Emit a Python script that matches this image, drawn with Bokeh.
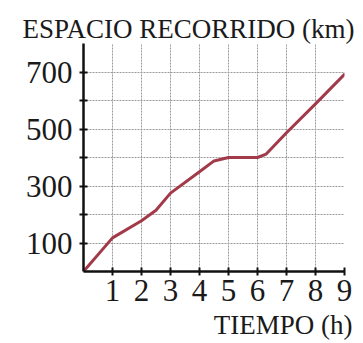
from bokeh.plotting import figure
from bokeh.models import FixedTicker, Title, Range1d
from bokeh.embed import file_html
from bokeh.resources import INLINE

# Data
hours = [0, 1, 2, 2.5, 3, 4, 4.5, 5, 6, 6.3, 7, 8, 9]
distance_km = [0, 118, 178, 215, 275, 350, 388, 400, 400, 412, 487, 588, 692]

x_ticks = [1, 2, 3, 4, 5, 6, 7, 8, 9]
y_ticks = [100, 200, 300, 400, 500, 600, 700]
y_grid = [100, 200, 300, 400, 500, 600, 700, 800]
y_labels = {200: "", 400: "", 600: ""}

title_text = "ESPACIO RECORRIDO (km)"
x_title = "TIEMPO (h)"

FONT = "Liberation Serif"

p = figure(width=363, height=343, output_backend="svg", toolbar_location=None,
           x_range=Range1d(0, 9), y_range=Range1d(0, 800),
           min_border_left=83, min_border_right=19, min_border_top=43, min_border_bottom=68)
p.outline_line_color = None
p.background_fill_color = "white"
p.border_fill_color = "white"

p.line(hours, distance_km, line_color="#a33a4a", line_width=3, line_join="round", line_cap="round")

for ax in (p.xaxis[0], p.yaxis[0]):
    ax.axis_line_color = "#111111"
    ax.axis_line_width = 2.5
    ax.major_tick_line_color = "#111111"
    ax.major_tick_line_width = 2
    ax.major_tick_in = 4
    ax.major_tick_out = 4
    ax.minor_tick_line_color = None
    ax.major_label_text_font = FONT
    ax.major_label_text_font_size = "31px"
    ax.major_label_text_color = "#1a1a1a"

p.xaxis[0].ticker = FixedTicker(ticks=x_ticks)
p.yaxis[0].ticker = FixedTicker(ticks=y_ticks)
p.yaxis[0].major_label_overrides = y_labels
p.xaxis[0].major_label_standoff = 4
p.yaxis[0].major_label_standoff = 7

p.xgrid[0].ticker = FixedTicker(ticks=x_ticks)
p.ygrid[0].ticker = FixedTicker(ticks=y_grid)
for g in (p.xgrid[0], p.ygrid[0]):
    g.grid_line_color = "#9a9a9a"
    g.grid_line_dash = "2 1"
    g.grid_line_width = 1

p.title = Title(text=title_text, align="left", offset=-61, standoff=0,
                text_font=FONT, text_font_size="27px", text_font_style="normal",
                text_color="#1a1a1a")
p.add_layout(Title(text=x_title, align="right", offset=-8, standoff=8,
                   text_font=FONT, text_font_size="27px", text_font_style="normal",
                   text_color="#1a1a1a"), "below")

open("out.html", "w").write(file_html(p, INLINE))
